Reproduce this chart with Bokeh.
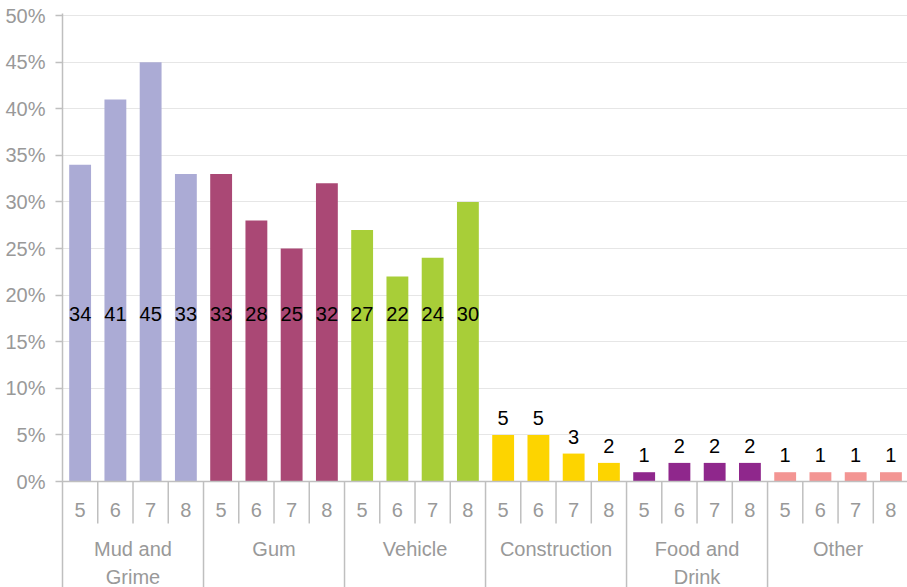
import numpy as np
from bokeh.plotting import figure
from bokeh.models import Range1d, FixedTicker, PrintfTickFormatter, Span, ColumnDataSource
from bokeh.core.properties import value
from bokeh.embed import file_html
from bokeh.resources import INLINE

groups = ["Mud and\nGrime", "Gum", "Vehicle", "Construction", "Food and\nDrink", "Other"]
subcats = ["5", "6", "7", "8"]
group_colors = ["#ABABD5", "#AA4875", "#A8CE38", "#FDD400", "#8F278C", "#F39593"]
mud = [34, 41, 45, 33]
gum = [33, 28, 25, 32]
vehicle = [27, 22, 24, 30]
construction = [5, 5, 3, 2]
food = [1, 2, 2, 2]
other = [1, 1, 1, 1]
y_ticks = [0, 5, 10, 15, 20, 25, 30, 35, 40, 45, 50]

series = [mud, gum, vehicle, construction, food, other]
vals = np.array([v for s in series for v in s], dtype=float)
n = len(vals)
xs = np.arange(n) + 0.5
colors = [group_colors[i // 4] for i in range(n)]
sub_labels = [subcats[i % 4] for i in range(n)]

FONT = "Liberation Sans"
GREY = "#999999"
LINE = "#bfbfbf"
FS = "20px"

p = figure(width=907, height=587, output_backend="svg", toolbar_location=None,
           x_range=Range1d(0, 23.97), y_range=Range1d(-11.37, 50.22),
           min_border_left=62, min_border_right=0, min_border_top=13, min_border_bottom=0)
p.outline_line_color = None
p.xaxis.visible = False
p.xgrid.grid_line_color = None
p.ygrid.grid_line_color = "#e6e6e6"
p.ygrid.ticker = FixedTicker(ticks=y_ticks[1:])

ax = p.yaxis[0]
ax.ticker = FixedTicker(ticks=y_ticks)
ax.formatter = PrintfTickFormatter(format="%d%%")
ax.axis_line_color = LINE
ax.axis_line_width = 1.5
ax.major_tick_line_color = LINE
ax.major_tick_line_width = 1.5
ax.major_tick_out = 7
ax.major_tick_in = 0
ax.minor_tick_line_color = None
ax.major_label_text_font = FONT
ax.major_label_text_font_size = FS
ax.major_label_text_color = GREY
ax.major_label_standoff = 10

src = ColumnDataSource(dict(x=xs, top=vals, color=colors))
p.vbar(x="x", top="top", bottom=0, width=0.62, fill_color="color", line_color=None, source=src)

p.add_layout(Span(location=0, dimension="width", line_color=LINE, line_width=1.5))

# separators below axis
sub_x = [i for i in range(1, n) if i % 4 != 0]
grp_x = [i for i in range(4, n + 1, 4)]
p.segment(x0=sub_x, y0=[0] * len(sub_x), x1=sub_x, y1=[-4.5] * len(sub_x), line_color=LINE, line_width=1.5)
p.segment(x0=grp_x, y0=[0] * len(grp_x), x1=grp_x, y1=[-11.5] * len(grp_x), line_color=LINE, line_width=1.5)

# category labels
p.text(x=xs, y=[-3.1] * n, text=sub_labels, text_align="center", text_baseline="middle",
       text_font=value(FONT), text_font_size=FS, text_color=GREY)
gx = np.arange(len(groups)) * 4 + 2
p.text(x=gx, y=[-6.05] * len(groups), text=groups, text_align="center", text_baseline="top",
       text_font=value(FONT), text_font_size=FS, text_color=GREY, text_line_height=1.28)

# data labels
big = vals > 15
p.text(x=xs[big], y=[18.0] * int(big.sum()), text=[str(int(v)) for v in vals[big]],
       text_align="center", text_baseline="middle", text_font=value(FONT),
       text_font_size=FS, text_color="#000000")
small = ~big
p.text(x=xs[small], y=vals[small], text=[str(int(v)) for v in vals[small]], y_offset=-17,
       text_align="center", text_baseline="middle", text_font=value(FONT),
       text_font_size=FS, text_color="#000000")

open("out.html", "w").write(file_html(p, INLINE))
